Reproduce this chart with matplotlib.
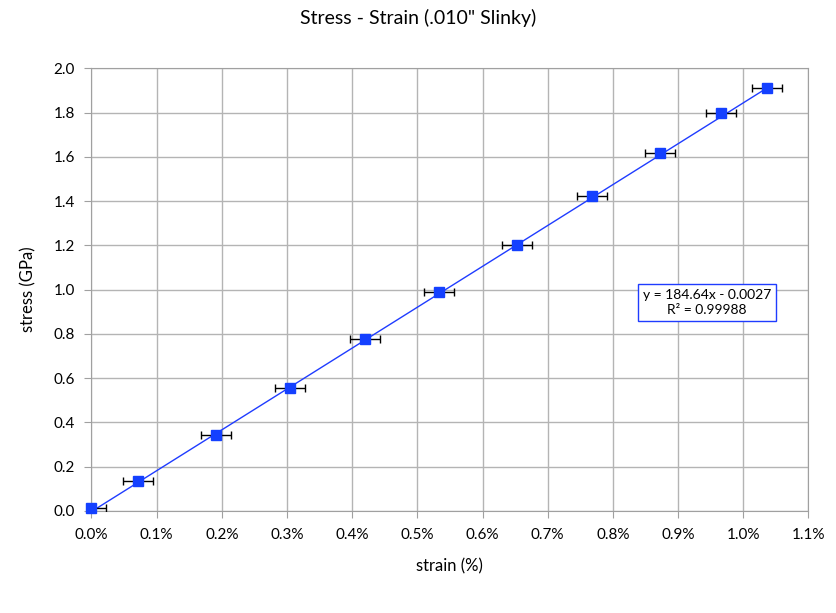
import matplotlib.pyplot as plt
import numpy as np
from matplotlib.ticker import FuncFormatter, MultipleLocator

plt.rcParams['font.family'] = ['Lato', 'DejaVu Sans']

# strain in %, stress in GPa
strain = [0.0, 0.0713, 0.191, 0.3044, 0.4195, 0.533, 0.6526, 0.7676, 0.8719, 0.9655, 1.037]
stress = [0.014, 0.135, 0.343, 0.555, 0.776, 0.989, 1.201, 1.422, 1.616, 1.797, 1.910]
strain_err = [0.023] * len(strain)

# trendline (x as a fraction, not %)
slope = 184.64
intercept = -0.0027
fit_label = "y = 184.64x - 0.0027\nR² = 0.99988"

fig = plt.figure(figsize=(8.36, 6.13), dpi=100)
ax = fig.add_axes([0.1094, 0.1664, 0.8576, 0.7222])

x_line = np.array([strain[0], strain[-1]])
ax.plot(x_line, slope * x_line / 100 + intercept, color="#1f3cff", linewidth=1, zorder=2)
ax.errorbar(strain, stress, xerr=strain_err, fmt="none", ecolor="black",
            elinewidth=1, capsize=3, capthick=1, zorder=3)
ax.plot(strain, stress, linestyle="none", marker="s", markersize=7,
        color="#1440ff", zorder=4, clip_on=False)

ax.set_xlim(0, 1.1)
ax.set_ylim(0, 2.0)
ax.xaxis.set_major_locator(MultipleLocator(0.1))
ax.yaxis.set_major_locator(MultipleLocator(0.2))
ax.xaxis.set_major_formatter(FuncFormatter(lambda v, p: f"{v:.1f}%"))
ax.yaxis.set_major_formatter(FuncFormatter(lambda v, p: f"{v:.1f}"))
ax.grid(True, color="#b4b4b4", linewidth=1)
ax.set_axisbelow(True)
for s in ax.spines.values():
    s.set_color("#a0a0a0")
ax.tick_params(colors="#a0a0a0", labelcolor="black", labelsize=11, length=5, pad=7)

ax.set_xlabel("strain (%)", fontsize=12, labelpad=12)
ax.set_ylabel("stress (GPa)", fontsize=12, labelpad=12)
fig.suptitle("Stress - Strain (.010\" Slinky)", fontsize=14, y=0.985)

fig.text(0.8455, 0.507, fit_label, ha="center", va="center", fontsize=10,
         linespacing=1.3,
         bbox=dict(boxstyle="square,pad=0.35", facecolor="white", edgecolor="#1f3cff"))

fig.savefig("out.png", dpi=100)
